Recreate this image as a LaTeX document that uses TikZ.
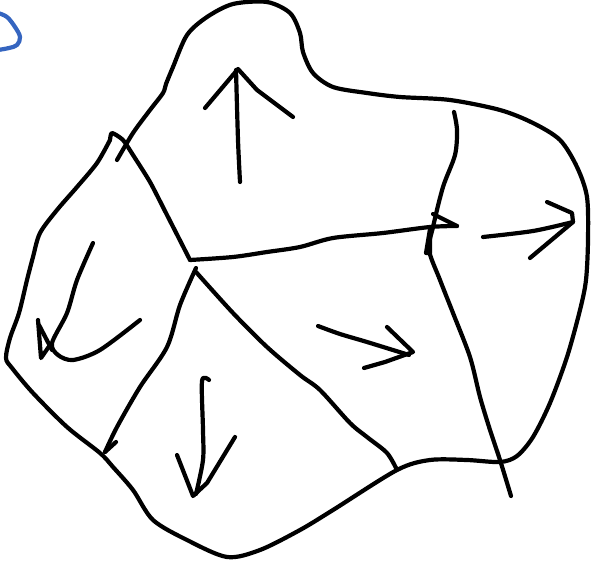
\documentclass[tikz,border=0pt]{standalone}
\begin{document}
\begin{tikzpicture}[x=1pt,y=-1pt,
  ink/.style={line width=4.2pt,line cap=round,line join=round,black},
  blueink/.style={line width=4.2pt,line cap=round,line join=round,color={rgb,255:red,53;green,101;blue,192}}]
\useasboundingbox (0,0) rectangle (600,567);
% outer outline plus the first inner edge
\draw[ink] plot[smooth,tension=0.5] coordinates {
 (117,160) (133,133) (150,110) (163,93) (166,84) (173,67) (187,35) (207,17) (233,4) (267,2) (290,13) (300,33) (303,52) (313,73) (333,87) (367,93) (400,97) (450,100) (500,110) (533,123) (560,140) (577,167) (587,197) (588,240) (586,280) (580,310) (567,357) (550,403) (533,437) (517,456) (500,462) (467,460) (430,460) (397,470) (333,510) (300,530) (260,550) (227,557) (187,540) (153,520) (133,490) (113,467) (100,453) (67,427) (33,393) (12,368) (6,358) (10,338) (19,313) (27,280) (33,257) (40,233) (57,210) (77,187) (97,163) (110,140)};
\draw[ink] plot[smooth,tension=0.4] coordinates {(110,140) (112,133) (123,140) (133,155) (150,182) (167,215) (190,260)};
% center lines
\draw[ink] plot[smooth,tension=0.5] coordinates {(190,260) (233,257) (267,252) (300,247) (333,238) (383,233) (430,227) (457,226)};
\draw[ink] (457,226) -- (433,214);
\draw[ink] plot[smooth,tension=0.5] coordinates {(196,268) (180,305) (167,347) (140,387) (117,427) (105,452)};
\draw[ink] (105,452) -- (116,442);
\draw[ink] plot[smooth,tension=0.5] coordinates {(196,272) (233,313) (267,347) (300,375) (320,390) (350,423) (367,437) (387,453) (397,470)};
% right vertical line
\draw[ink] plot[smooth,tension=0.5] coordinates {(454,112) (457,130) (455,155) (443,187) (433,227) (429,250) (440,280) (453,313) (470,357) (480,397) (490,430) (500,460) (511,496)};
\draw[ink] (426,253) -- (430,253) -- (430,229) -- cycle;
% up arrow
\draw[ink] plot[smooth,tension=0.5] coordinates {(240,182) (238,140) (236,70)};
\draw[ink] (205,108) -- (238,69) -- (257,90) -- (293,117);
% right arrow
\draw[ink] plot[smooth,tension=0.5] coordinates {(483,237) (533,231) (573,222)};
\draw[ink] (547,202) -- (572,213) -- (573,222) -- (530,258);
% middle arrow
\draw[ink] plot[smooth,tension=0.5] coordinates {(318,326) (340,334) (367,342) (409,355)};
\draw[ink] (387,327) -- (413,352) -- (385,362) -- (364,368);
% down arrow
\draw[ink] plot[smooth,tension=0.5] coordinates {(209,380) (202,381) (203,430) (203,460) (196,494)};
\draw[ink] (177,455) -- (193,496) -- (207,483) -- (235,437);
% left curled arrow
\draw[ink] plot[smooth,tension=0.5] coordinates {(93,243) (77,280) (67,313) (52,343) (58,355) (73,360) (100,350) (140,320)};
\draw[ink] (38,320) -- (41,358) -- (50,345);
\draw[ink] (39,325) -- (52,350);
% blue stroke
\draw[blueink] plot[smooth,tension=0.6] coordinates {(-2,13) (7,17) (15,27) (20,37) (17,45) (9,48) (-2,50)};
\end{tikzpicture}
\end{document}
